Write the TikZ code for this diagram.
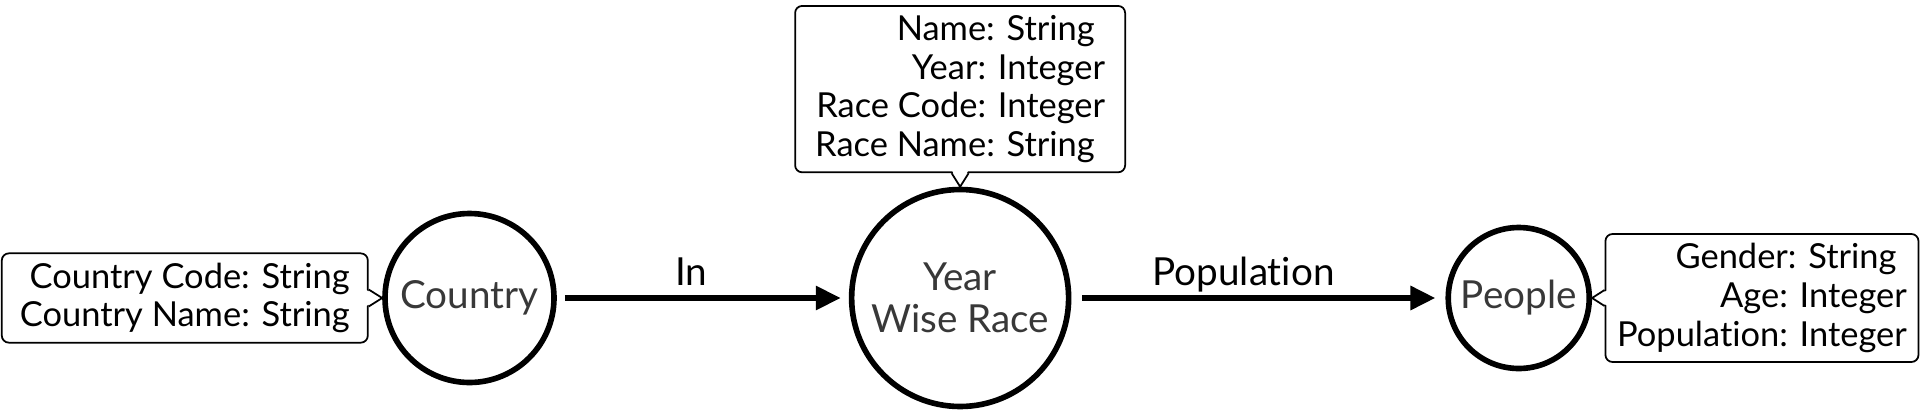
\documentclass[tikz,border=0pt]{standalone}
\usepackage{fontspec}
\setmainfont{Lato}[Ligatures=NoCommon]
\usetikzlibrary{arrows.meta, positioning}

\begin{document}
\begin{tikzpicture}[
  ent/.style={circle, draw=black, line width=1.6pt, inner sep=0pt, align=center,
              text=black!78, font=\fontsize{11}{12}\selectfont},
  attr/.style={rectangle, rounded corners=2pt, draw=black, line width=0.5pt,
               fill=white, align=right, font=\fontsize{9.8}{11}\selectfont,
               inner xsep=2pt, inner ysep=2.7pt},
  notch/.style={line width=0.5pt},
  rel/.style={-{Triangle[length=0.25cm, width=0.23cm]}, line width=1.7pt},
  lbl/.style={font=\fontsize{11}{12}\selectfont, anchor=base, yshift=0.13cm, pos=0.46}
]
\useasboundingbox (0,0) rectangle (19.2,4.15);
% entities
\node[ent, minimum size=1.69cm] (country) at (4.695,1.17) {Country};
\node[ent, minimum size=2.17cm, right=2.92cm of country] (ywr) {Year\\Wise Race};
\node[ent, minimum size=1.41cm, right=3.74cm of ywr] (people) {People};
% attribute boxes
\node[attr, minimum width=3.66cm, left=0.135cm of country] (countryattr)
  {Country Code: String\\Country Name: String};
\node[attr, minimum width=3.30cm, above=0.135cm of ywr] (ywrattr)
  {Name: String\hspace*{.3em}\\Year: Integer\\Race Code: Integer\\Race Name: String\hspace*{.3em}};
\node[attr, minimum width=3.13cm, right=0.125cm of people] (peopleattr)
  {Gender: String\hspace*{.3em}\\Age: Integer\\Population: Integer};
% pointers of the boxes
\fill[white] ([shift={(-1pt,.085cm)}]countryattr.east) -- (country.west)
  -- ([shift={(-1pt,-.085cm)}]countryattr.east) -- cycle;
\draw[notch] ([yshift=.085cm]countryattr.east) -- (country.west) -- ([yshift=-.085cm]countryattr.east);
\fill[white] ([shift={(-.085cm,1pt)}]ywrattr.south) -- (ywr.north)
  -- ([shift={(.085cm,1pt)}]ywrattr.south) -- cycle;
\draw[notch] ([xshift=-.085cm]ywrattr.south) -- (ywr.north) -- ([xshift=.085cm]ywrattr.south);
\fill[white] ([shift={(1pt,.08cm)}]peopleattr.west) -- (people.east)
  -- ([shift={(1pt,-.08cm)}]peopleattr.west) -- cycle;
\draw[notch] ([yshift=.08cm]peopleattr.west) -- (people.east) -- ([yshift=-.08cm]peopleattr.west);
% relations
\draw[rel, shorten <=0.08cm, shorten >=0.08cm] (country) -- node[lbl] {In} (ywr);
\draw[rel, shorten <=0.11cm, shorten >=0.10cm] (ywr) -- node[lbl] {Population} (people);
\end{tikzpicture}
\end{document}
